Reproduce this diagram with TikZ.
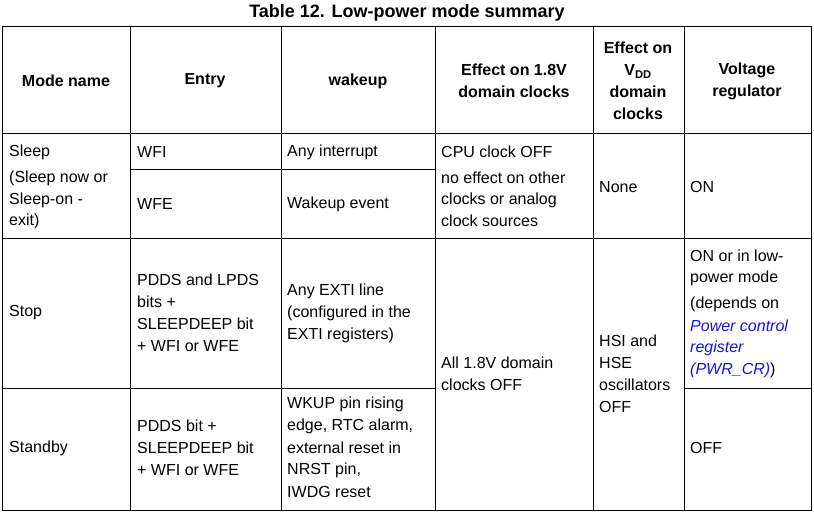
\documentclass[tikz,border=0pt]{standalone}
\usepackage{fontspec}
\setmainfont{Liberation Sans}
\definecolor{lnk}{RGB}{20,20,230}
\begin{document}
\begin{tikzpicture}[x=1pt,y=-1pt,
  cell/.style={anchor=west,inner sep=0pt,font=\fontsize{16}{19}\selectfont},
  hd/.style={anchor=center,inner sep=0pt,font=\fontsize{16}{22}\selectfont\bfseries},
  grid/.style={line width=1pt}]
\useasboundingbox (0,0) rectangle (814,516);
\node[hd,font=\fontsize{18}{20}\selectfont\bfseries] (title) at (407,13) {Table 12. Low-power mode summary};
% grid
\draw[grid] (2,27) rectangle (811,510);
\draw[grid] (2,134) -- (811,134);
\draw[grid] (130,27) -- (130,510);
\draw[grid] (281,27) -- (281,510);
\draw[grid] (435,27) -- (435,510);
\draw[grid] (593,27) -- (593,510);
\draw[grid] (684,27) -- (684,510);
\draw[grid] (130,170) -- (435,170);
\draw[grid] (2,238) -- (811,238);
\draw[grid] (2,388) -- (435,388);
\draw[grid] (684,388) -- (811,388);
% header
\node[hd] (h1) at (66,81) {Mode name};
\node[hd] (h2) at (205,81) {Entry};
\node[hd] (h3) at (358,81) {wakeup};
\node[hd,align=center] (h4) at (514,81) {Effect on 1.8V\\domain clocks};
\node[hd,align=center] (h5) at (638,81) {Effect on\\V\textsubscript{DD}\\domain\\clocks};
\node[hd,align=center] (h6) at (747,81) {Voltage\\regulator};
% sleep
\node[cell] (s1) at (9,152) {Sleep};
\node[cell] (s2) at (9,178) {(Sleep now or};
\node[cell] (s3) at (9,200) {Sleep-on -};
\node[cell] (s4) at (9,221) {exit)};
\node[cell] (e1) at (137,152) {WFI};
\node[cell] (e2) at (137,204) {WFE};
\node[cell] (w1) at (287,152) {Any interrupt};
\node[cell] (w2) at (287,204) {Wakeup event};
\node[cell] (c1) at (441,152) {CPU clock OFF};
\node[cell] (c2) at (441,178) {no effect on other};
\node[cell] (c3) at (441,200) {clocks or analog};
\node[cell] (c4) at (441,221) {clock sources};
\node[cell] (v1) at (599,187) {None};
\node[cell] (r1) at (690,187) {ON};
% stop
\node[cell] (t1) at (9,313) {Stop};
\node[cell] (te1) at (137,280) {PDDS and LPDS};
\node[cell] (te2) at (137,302) {bits +};
\node[cell] (te3) at (137,324) {SLEEPDEEP bit};
\node[cell] (te4) at (137,346) {+ WFI or WFE};
\node[cell] (tw1) at (287,291) {Any EXTI line};
\node[cell] (tw2) at (287,313) {(configured in the};
\node[cell] (tw3) at (287,335) {EXTI registers)};
\node[cell] (c5) at (441,363) {All 1.8V domain};
\node[cell] (c6) at (441,385) {clocks OFF};
\node[cell] (v2) at (599,341) {HSI and};
\node[cell] (v3) at (599,363) {HSE};
\node[cell] (v4) at (599,385) {oscillators};
\node[cell] (v5) at (599,407) {OFF};
\node[cell] (r2) at (690,256) {ON or in low-};
\node[cell] (r3) at (690,278) {power mode};
\node[cell] (r4) at (690,304) {(depends on};
\node[cell,text=lnk] (r5) at (690,326) {\itshape Power control};
\node[cell,text=lnk] (r6) at (690,348) {\itshape register};
\node[cell] (r7) at (690,370) {\textcolor{lnk}{\itshape (PWR\_CR)})};
% standby
\node[cell] (b1) at (9,448) {Standby};
\node[cell] (be1) at (137,426) {PDDS bit +};
\node[cell] (be2) at (137,448) {SLEEPDEEP bit};
\node[cell] (be3) at (137,470) {+ WFI or WFE};
\node[cell] (bw1) at (287,404) {WKUP pin rising};
\node[cell] (bw2) at (287,426) {edge, RTC alarm,};
\node[cell] (bw3) at (287,448) {external reset in};
\node[cell] (bw4) at (287,470) {NRST pin,};
\node[cell] (bw5) at (287,492) {IWDG reset};
\node[cell] (r8) at (690,448) {OFF};
\end{tikzpicture}
\end{document}
